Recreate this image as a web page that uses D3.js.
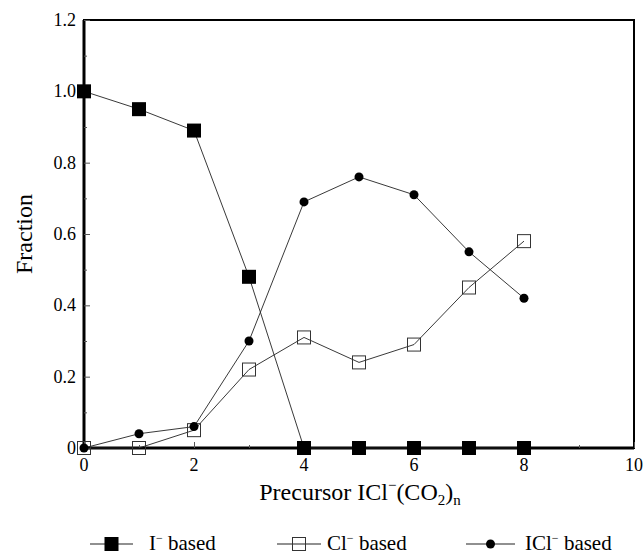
<!DOCTYPE html>
<html><head><meta charset="utf-8">
<script src="https://cdn.jsdelivr.net/npm/d3@7"></script>
<style>body{margin:0;background:#fff}svg{display:block}</style>
</head><body>
<svg id="c" width="643" height="555" font-family="'Liberation Serif', 'Times New Roman', 'DejaVu Serif', serif"></svg>
<script>
const xValues = [0,1,2,3,4,5,6,7,8];
const iBased = [1.0,0.95,0.89,0.48,0,0,0,0,0];
const clBased = [0,0,0.05,0.22,0.31,0.24,0.29,0.45,0.58];
const iclBased = [0,0.04,0.06,0.30,0.69,0.76,0.71,0.55,0.42];
const xTicks = [0,2,4,6,8,10];
const yTicks = [0,0.2,0.4,0.6,0.8,1.0,1.2];
const yTickLabels = ["0","0.2","0.4","0.6","0.8","1.0","1.2"];

const svg = d3.select("#c");
const L=84, R=634, T=20, B=448;
const x = d3.scaleLinear().domain([0,10]).range([L,R]);
const y = d3.scaleLinear().domain([0,1.2]).range([B,T]);

// frame
svg.append("rect").attr("x",L).attr("y",T).attr("width",R-L).attr("height",B-T)
  .attr("fill","none").attr("stroke","#000").attr("stroke-width",2);
svg.append("line").attr("x1",L).attr("x2",L).attr("y1",T).attr("y2",B).attr("stroke","#000").attr("stroke-width",3);
svg.append("line").attr("x1",L).attr("x2",R).attr("y1",B).attr("y2",B).attr("stroke","#000").attr("stroke-width",3);

// y axis
const yAx = svg.append("g").attr("transform",`translate(${L},0)`)
  .call(d3.axisRight(y).tickValues(yTicks).tickSize(6).tickFormat(""));
yAx.select(".domain").remove();
yAx.selectAll("line").attr("stroke","#555").attr("stroke-width",1);
svg.append("g").attr("transform",`translate(${L},0)`)
  .call(d3.axisRight(y).tickValues(d3.range(0.1,1.2,0.2)).tickSize(3).tickFormat(""))
  .call(g=>{g.select(".domain").remove();g.selectAll("line").attr("stroke","#555");});
yTicks.forEach((v,i)=>{
  svg.append("text").attr("x",L-8).attr("y",y(v)+6).attr("text-anchor","end")
    .attr("font-size",18).text(yTickLabels[i]);
});

// x axis
const xAx = svg.append("g").attr("transform",`translate(0,${B})`)
  .call(d3.axisTop(x).tickValues(xTicks).tickSize(6).tickFormat(""));
xAx.select(".domain").remove();
xAx.selectAll("line").attr("stroke","#555");
svg.append("g").attr("transform",`translate(0,${B})`)
  .call(d3.axisTop(x).tickValues([1,3,5,7,9]).tickSize(3).tickFormat(""))
  .call(g=>{g.select(".domain").remove();g.selectAll("line").attr("stroke","#555");});
xTicks.forEach(v=>{
  svg.append("text").attr("x",x(v)).attr("y",B+23).attr("text-anchor","middle")
    .attr("font-size",18).text(v);
});

// axis titles
svg.append("text").attr("transform",`translate(32,${(T+B)/2}) rotate(-90)`)
  .attr("text-anchor","middle").attr("font-size",24).text("Fraction");
const xt = svg.append("text").attr("x",360).attr("y",500).attr("text-anchor","middle").attr("font-size",24);
xt.append("tspan").text("Precursor ICl");
xt.append("tspan").attr("dy",-10).attr("font-size",15).text("−");
xt.append("tspan").attr("dy",10).text("(CO");
xt.append("tspan").attr("dy",5).attr("font-size",15).text("2");
xt.append("tspan").attr("dy",-5).text(")");
xt.append("tspan").attr("dy",5).attr("font-size",15).text("n");

// series
const line = d3.line().x((d,i)=>x(xValues[i])).y(d=>y(d));
const series = [
  {data:clBased, type:"open"},
  {data:iclBased, type:"circle"},
  {data:iBased, type:"filled"}
];
series.forEach(s=>{
  svg.append("path").attr("d",line(s.data)).attr("fill","none").attr("stroke","#222").attr("stroke-width",0.9);
});
function marker(g,type,cx,cy){
  if(type==="filled") g.append("rect").attr("x",cx-7).attr("y",cy-7).attr("width",14).attr("height",14).attr("fill","#000");
  else if(type==="open") g.append("rect").attr("x",cx-6.5).attr("y",cy-6.5).attr("width",13).attr("height",13).attr("fill","none").attr("stroke","#333").attr("stroke-width",1);
  else g.append("circle").attr("cx",cx).attr("cy",cy).attr("r",4.5).attr("fill","#000");
}
series.forEach(s=>{
  const g = svg.append("g");
  s.data.forEach((v,i)=>marker(g,s.type,x(xValues[i]),y(v)));
});

// legend
const legend = [
  {type:"filled", base:"I", x1:90, x2:133, tx:149},
  {type:"open", base:"Cl", x1:277, x2:321, tx:327},
  {type:"circle", base:"ICl", x1:466, x2:515, tx:525}
];
const ly = 544;
legend.forEach(d=>{
  svg.append("line").attr("x1",d.x1).attr("x2",d.x2).attr("y1",ly).attr("y2",ly).attr("stroke","#222").attr("stroke-width",1.2);
  marker(svg,d.type,(d.x1+d.x2)/2,ly);
  const t = svg.append("text").attr("x",d.tx).attr("y",ly+6).attr("font-size",21);
  t.append("tspan").text(d.base);
  t.append("tspan").attr("dy",-8).attr("font-size",12).text("−");
  t.append("tspan").attr("dy",8).text(" based");
});
</script>
</body></html>
